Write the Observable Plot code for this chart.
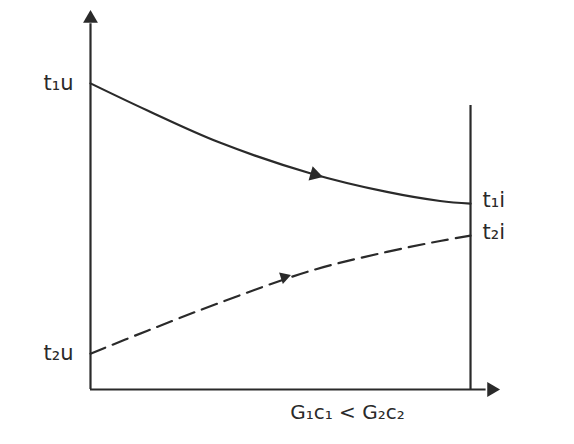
<!DOCTYPE html>
<html>
<head>
<meta charset="utf-8">
<script src="https://cdn.jsdelivr.net/npm/d3@7"></script>
<script src="https://cdn.jsdelivr.net/npm/@observablehq/plot@0.6"></script>
<style>
  html, body { margin: 0; padding: 0; background: #fff; }
  #chart { width: 574px; height: 444px; }
</style>
</head>
<body>
<div id="chart"></div>
<script>
// Position along the exchanger (0 = inlet, 1 = outlet)
const position = [0, 0.15, 0.34, 0.58, 0.78, 0.92, 1];
// Hot fluid temperature (solid) and cold fluid temperature (dashed), arbitrary units
const hotTemp  = [81.2, 74.0, 65.5, 57.3, 52.4, 50.0, 49.3];
const coldTemp = [9.5, 15.6, 23.0, 31.5, 36.5, 39.4, 40.8];
// Labels
const endLabels = ["t\u2081u", "t\u2082u", "t\u2081i", "t\u2082i"];
const caption = "G\u2081c\u2081 < G\u2082c\u2082";
// Axis extents
const xEnd = 1.071, yEnd = 100, outletTop = 75.3;

const hot = position.map((p, i) => ({x: p, y: hotTemp[i]}));
const cold = position.map((p, i) => ({x: p, y: coldTemp[i]}));
const labels = [
  {x: 0, y: hotTemp[0], t: endLabels[0], side: "left"},
  {x: 0, y: coldTemp[0], t: endLabels[1], side: "left"},
  {x: 1, y: hotTemp[hotTemp.length - 1], t: endLabels[2], side: "right"},
  {x: 1, y: coldTemp[coldTemp.length - 1], t: endLabels[3], side: "right"}
];
const ink = "#2a2a2a";
const font = "DejaVu Sans";

const chart = Plot.plot({
  width: 574,
  height: 444,
  marginLeft: 90,
  marginRight: 77,
  marginTop: 12,
  marginBottom: 55,
  x: {domain: [0, xEnd], axis: null},
  y: {domain: [0, yEnd], axis: null},
  style: {background: "#fff", fontFamily: font},
  marks: [
    // axes
    Plot.ruleX([0], {y1: 0, y2: yEnd - 3, stroke: ink, strokeWidth: 2.2}),
    Plot.ruleY([0], {x1: 0, x2: xEnd - 0.03, stroke: ink, strokeWidth: 2.2}),
    Plot.dot([{x: 0, y: yEnd}], {x: "x", y: "y", symbol: "triangle", r: 5.5, fill: ink, stroke: "none", dy: 6}),
    Plot.dot([{x: xEnd, y: 0}], {x: "x", y: "y", symbol: "triangle", r: 5.5, fill: ink, stroke: "none", rotate: 90, dx: -6}),
    // outlet line
    Plot.ruleX([1], {y1: 0, y2: outletTop, stroke: ink, strokeWidth: 2.2}),
    // curves
    Plot.line(hot, {x: "x", y: "y", curve: "catmull-rom", stroke: ink, strokeWidth: 2.2}),
    Plot.line(cold, {x: "x", y: "y", curve: "catmull-rom", stroke: ink, strokeWidth: 2.2, strokeDasharray: "16,8"}),
    // direction arrowheads
    Plot.dot([{x: 0.59, y: 57.0}], {x: "x", y: "y", symbol: "triangle", r: 5.5, fill: ink, stroke: "none", rotate: 106}),
    Plot.dot([{x: 0.51, y: 29.8}], {x: "x", y: "y", symbol: "triangle", r: 4.5, fill: ink, stroke: "none", rotate: 72}),
    // labels
    Plot.text(labels.filter(d => d.side === "left"), {x: "x", y: "y", text: "t", textAnchor: "end", dx: -17, fontSize: 21, fill: ink}),
    Plot.text(labels.filter(d => d.side === "right"), {x: "x", y: "y", text: "t", textAnchor: "start", dx: 12, dy: -3, fontSize: 21, fill: ink}),
    Plot.text([caption], {x: 0.676, y: 0, text: d => d, dy: 23, fontSize: 20, fill: ink, letterSpacing: "1px"})
  ]
});
document.getElementById("chart").appendChild(chart);
</script>
</body>
</html>
